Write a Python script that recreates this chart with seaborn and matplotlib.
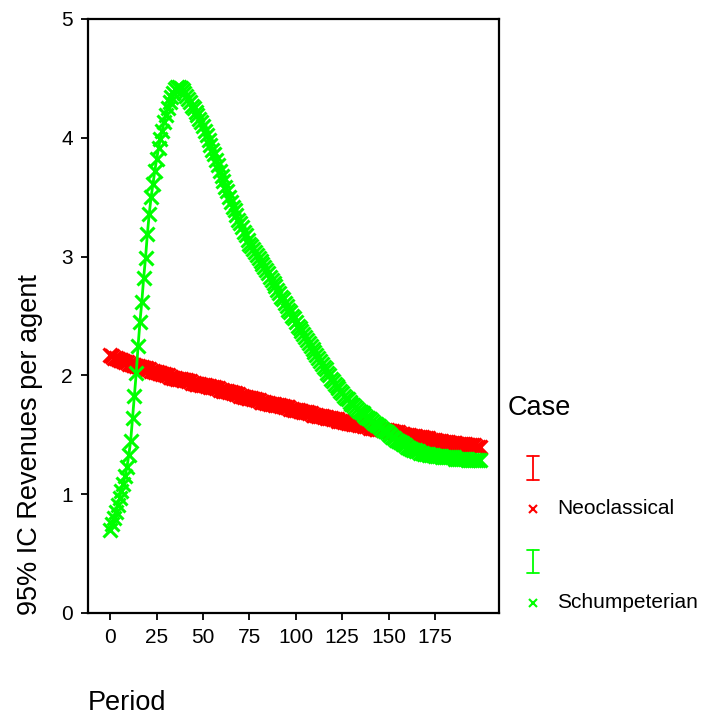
import pandas as pd
import seaborn as sns
import matplotlib.pyplot as plt
from matplotlib.lines import Line2D

# Mean revenues per agent for each period (0..199)
periods = list(range(200))

schumpeterian = [
    0.70, 0.75, 0.80, 0.85, 0.91, 0.97, 1.03, 1.09, 1.15, 1.23,
    1.33, 1.45, 1.64, 1.83, 2.02, 2.25, 2.45, 2.62, 2.82, 2.99,
    3.19, 3.36, 3.50, 3.61, 3.72, 3.82, 3.91, 3.99, 4.06, 4.13,
    4.19, 4.25, 4.30, 4.34, 4.38, 4.41, 4.43, 4.43, 4.42, 4.40,
    4.38, 4.35, 4.33, 4.30, 4.27, 4.25, 4.22, 4.19, 4.16, 4.13,
    4.10, 4.06, 4.02, 3.98, 3.94, 3.90, 3.86, 3.81, 3.77, 3.72,
    3.68, 3.64, 3.59, 3.55, 3.50, 3.46, 3.42, 3.39, 3.35, 3.31,
    3.28, 3.25, 3.21, 3.18, 3.14, 3.11, 3.09, 3.06, 3.04, 3.01,
    2.99, 2.96, 2.94, 2.91, 2.89, 2.86, 2.83, 2.80, 2.78, 2.75,
    2.72, 2.69, 2.66, 2.64, 2.61, 2.58, 2.55, 2.53, 2.50, 2.48,
    2.45, 2.42, 2.40, 2.37, 2.35, 2.32, 2.30, 2.27, 2.25, 2.22,
    2.20, 2.17, 2.15, 2.12, 2.10, 2.07, 2.05, 2.02, 2.00, 1.97,
    1.95, 1.93, 1.91, 1.89, 1.87, 1.85, 1.83, 1.81, 1.80, 1.78,
    1.76, 1.75, 1.73, 1.72, 1.70, 1.69, 1.68, 1.67, 1.65, 1.64,
    1.63, 1.62, 1.60, 1.59, 1.58, 1.57, 1.56, 1.54, 1.53, 1.52,
    1.51, 1.50, 1.48, 1.47, 1.46, 1.45, 1.44, 1.43, 1.42, 1.41,
    1.40, 1.39, 1.38, 1.37, 1.37, 1.36, 1.36, 1.35, 1.35, 1.34,
    1.34, 1.34, 1.33, 1.33, 1.33, 1.32, 1.32, 1.32, 1.32, 1.31,
    1.31, 1.31, 1.31, 1.31, 1.31, 1.31, 1.30, 1.30, 1.30, 1.30,
    1.30, 1.30, 1.30, 1.29, 1.29, 1.29, 1.29, 1.29, 1.29, 1.29,
]

neoclassical = [
    2.17, 2.16, 2.15, 2.15, 2.14, 2.13, 2.13, 2.12, 2.11, 2.11,
    2.10, 2.10, 2.09, 2.09, 2.08, 2.08, 2.07, 2.07, 2.06, 2.06,
    2.05, 2.05, 2.04, 2.04, 2.03, 2.03, 2.02, 2.02, 2.01, 2.01,
    2.00, 2.00, 1.99, 1.99, 1.98, 1.98, 1.97, 1.97, 1.97, 1.96,
    1.96, 1.96, 1.95, 1.95, 1.94, 1.94, 1.93, 1.93, 1.93, 1.92,
    1.92, 1.92, 1.91, 1.91, 1.90, 1.90, 1.90, 1.89, 1.89, 1.88,
    1.88, 1.87, 1.87, 1.87, 1.86, 1.86, 1.85, 1.85, 1.84, 1.84,
    1.83, 1.83, 1.82, 1.82, 1.81, 1.81, 1.81, 1.80, 1.80, 1.79,
    1.79, 1.78, 1.78, 1.78, 1.77, 1.77, 1.76, 1.76, 1.76, 1.75,
    1.75, 1.75, 1.74, 1.74, 1.73, 1.73, 1.73, 1.72, 1.72, 1.71,
    1.71, 1.71, 1.70, 1.70, 1.69, 1.69, 1.69, 1.68, 1.68, 1.67,
    1.67, 1.67, 1.66, 1.66, 1.66, 1.65, 1.65, 1.64, 1.64, 1.64,
    1.63, 1.63, 1.63, 1.62, 1.62, 1.62, 1.61, 1.61, 1.60, 1.60,
    1.60, 1.59, 1.59, 1.59, 1.58, 1.58, 1.58, 1.57, 1.57, 1.57,
    1.56, 1.56, 1.56, 1.55, 1.55, 1.55, 1.55, 1.54, 1.54, 1.54,
    1.53, 1.53, 1.53, 1.52, 1.52, 1.52, 1.51, 1.51, 1.51, 1.50,
    1.50, 1.50, 1.49, 1.49, 1.49, 1.48, 1.48, 1.48, 1.48, 1.47,
    1.47, 1.47, 1.46, 1.46, 1.46, 1.46, 1.45, 1.45, 1.45, 1.44,
    1.44, 1.44, 1.44, 1.43, 1.43, 1.43, 1.43, 1.42, 1.42, 1.42,
    1.42, 1.42, 1.41, 1.41, 1.41, 1.41, 1.41, 1.40, 1.40, 1.40,
]

cases = ['Neoclassical', 'Schumpeterian']
colors = {'Neoclassical': '#ff0000', 'Schumpeterian': '#00ff00'}
x_ticks = [0, 25, 50, 75, 100, 125, 150, 175]
y_ticks = [0, 1, 2, 3, 4, 5]

df = pd.DataFrame({
    'Period': periods * 2,
    'Revenues': neoclassical + schumpeterian,
    'Case': ['Neoclassical'] * 200 + ['Schumpeterian'] * 200,
})

sns.set_style('white')
plt.rcParams['font.family'] = ['Liberation Sans', 'DejaVu Sans']
plt.rcParams['text.color'] = 'black'

W, H = 706, 716
fig = plt.figure(figsize=(W / 100, H / 100), dpi=100)
ax = fig.add_axes([88 / W, 1 - 613 / H, (499 - 88) / W, (613 - 19) / H])

for case in cases:
    c = colors[case]
    sns.lineplot(data=df[df['Case'] == case], x='Period', y='Revenues',
                 color=c, marker='x', markersize=9.5, markeredgewidth=2.2,
                 markeredgecolor=c, linewidth=2, ax=ax)

ax.set_xlim(-12, 209.5)
ax.set_ylim(0, 5)
ax.set_xticks(x_ticks)
ax.set_yticks(y_ticks)
ax.set_xlabel('')
ax.set_ylabel('')
ax.tick_params(direction='out', length=5, width=1.3, labelsize=15,
               colors='black', pad=6, left=True, bottom=True)
for sp in ax.spines.values():
    sp.set_visible(True)
    sp.set_color('black')
    sp.set_linewidth(1.6)

# axis titles
fig.text(30 / W, 1 - 615 / H, '95% IC Revenues per agent', rotation=90,
         ha='center', va='bottom', fontsize=19.5)
fig.text(88 / W, 1 - 703 / H, 'Period', ha='left', va='center', fontsize=19.5)

# legend drawn by hand
fig.text(508 / W, 1 - 408 / H, 'Case', ha='left', va='center', fontsize=19.5)
entries = [('Neoclassical', 456, 480, 509), ('Schumpeterian', 550, 573, 603)]
for name, y0, y1, ym in entries:
    c = colors[name]
    xc = 533 / W
    hw = 6 / W
    fig.add_artist(Line2D([xc, xc], [1 - y0 / H, 1 - y1 / H], color=c, lw=1.3))
    fig.add_artist(Line2D([xc - hw, xc + hw], [1 - y0 / H] * 2, color=c, lw=1.3))
    fig.add_artist(Line2D([xc - hw, xc + hw], [1 - y1 / H] * 2, color=c, lw=1.3))
    fig.add_artist(Line2D([xc], [1 - ym / H], color=c, marker='x', markersize=6,
                          markeredgewidth=1.5, linestyle='none'))
    fig.text(557 / W, 1 - (ym - 1) / H, name, ha='left', va='center', fontsize=15)

fig.savefig('out.png', dpi=100)
